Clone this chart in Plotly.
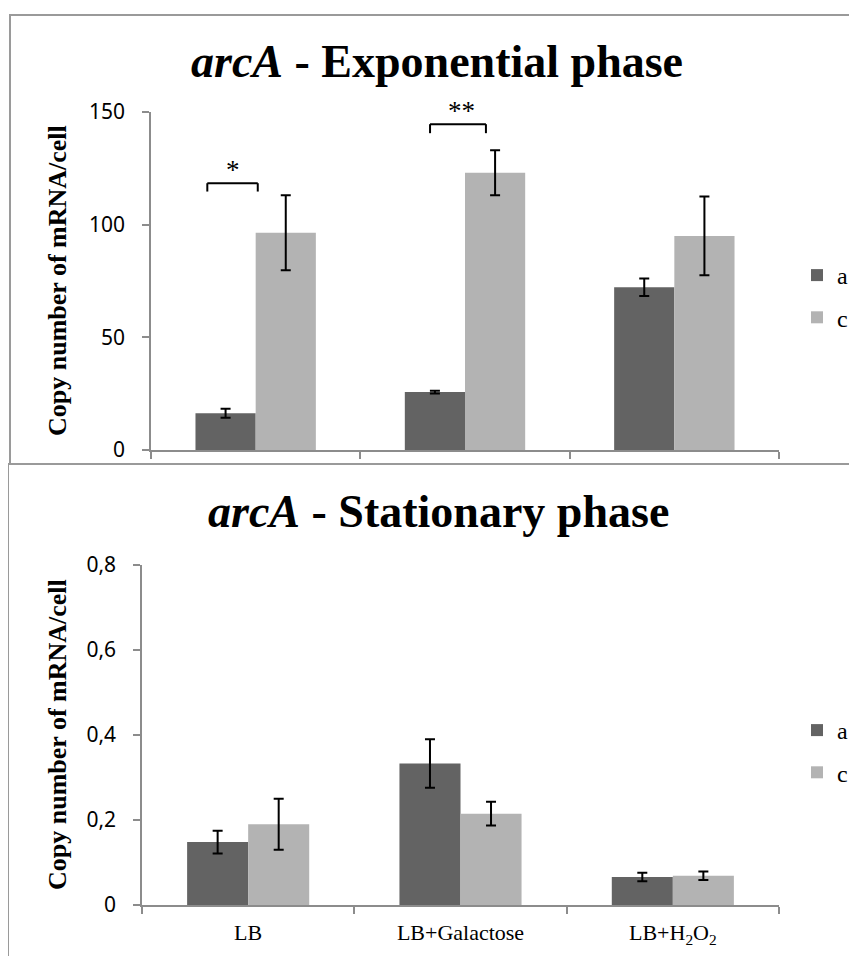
import plotly.graph_objects as go

W, H = 849, 948
OFF = 8  # page body margin

categories = ["LB", "LB+Galactose", "LB+H<sub>2</sub>O<sub>2</sub>"]
series_names = ["a", "c"]
colors = ["#636363", "#b3b3b3"]

# Exponential phase
exp_a = [16.3, 25.7, 72.2]
exp_a_err = [2.0, 0.6, 3.9]
exp_c = [96.4, 123.0, 95.0]
exp_c_err = [16.6, 10.0, 17.5]

# Stationary phase
sta_a = [0.148, 0.333, 0.066]
sta_a_err = [0.027, 0.057, 0.010]
sta_c = [0.190, 0.215, 0.069]
sta_c_err = [0.060, 0.028, 0.010]

# significance markers (top chart)
sig_x0 = [-0.231, 0.833]
sig_x1 = [0.010, 1.100]
sig_top = [118.4, 144.6]
sig_leg = [114.7, 140.6]
sig_label = ["*", "**"]
sig_label_x = [-0.11, 0.981]

def fx(px):
    return (px - OFF) / W

def fy(py):
    return 1 - (py - OFF) / H

fig = go.Figure()

series_top = [(exp_a, exp_a_err), (exp_c, exp_c_err)]
series_bot = [(sta_a, sta_a_err), (sta_c, sta_c_err)]

for i, (vals, errs) in enumerate(series_top):
    fig.add_trace(go.Bar(
        x=categories, y=vals, name=series_names[i],
        marker=dict(color=colors[i], line=dict(width=0)),
        error_y=dict(type="data", array=errs, visible=True, color="black", thickness=2, width=5),
        xaxis="x", yaxis="y", legend="legend", legendgroup="t" + str(i),
    ))
for i, (vals, errs) in enumerate(series_bot):
    fig.add_trace(go.Bar(
        x=categories, y=vals, name=series_names[i],
        marker=dict(color=colors[i], line=dict(width=0)),
        error_y=dict(type="data", array=errs, visible=True, color="black", thickness=2, width=5),
        xaxis="x2", yaxis="y2", legend="legend2", legendgroup="b" + str(i),
    ))

axis_col = "#8c8c8c"
tickfont = dict(family="Noto Sans", size=21, color="black")
legfont = dict(family="Liberation Serif", size=24, color="black")

fig.update_layout(
    width=W, height=H,
    margin=dict(l=0, r=0, t=0, b=0),
    paper_bgcolor="white", plot_bgcolor="white",
    barmode="group", bargap=0.425, bargroupgap=0,
    separators=", ",
    xaxis=dict(domain=[fx(151), fx(779)], anchor="y", type="category",
               showticklabels=False, ticks="outside", tickson="boundaries",
               ticklen=7, tickcolor=axis_col, tickwidth=1.5,
               showline=True, linecolor=axis_col, linewidth=1.5,
               showgrid=False, zeroline=False, automargin=False),
    yaxis=dict(domain=[fy(450), fy(112)], anchor="x", range=[0, 150], dtick=50,
               ticks="outside", ticklen=7, tickcolor=axis_col, tickwidth=1.5,
               ticklabelstandoff=13, tickfont=tickfont,
               showline=True, linecolor=axis_col, linewidth=1.5,
               showgrid=False, zeroline=False, automargin=False),
    xaxis2=dict(domain=[fx(142), fx(779)], anchor="y2", type="category",
                ticks="outside", tickson="boundaries",
                ticklen=7, tickcolor=axis_col, tickwidth=1.5,
                ticklabelstandoff=7,
                tickfont=dict(family="Liberation Serif", size=22, color="black"),
                showline=True, linecolor=axis_col, linewidth=1.5,
                showgrid=False, zeroline=False, automargin=False),
    yaxis2=dict(domain=[fy(905), fy(565)], anchor="x2", range=[0, 0.8], dtick=0.2,
                ticks="outside", ticklen=7, tickcolor=axis_col, tickwidth=1.5,
                ticklabelstandoff=13, tickfont=tickfont,
                showline=True, linecolor=axis_col, linewidth=1.5,
                showgrid=False, zeroline=False, automargin=False),
    legend=dict(x=fx(797), y=fy(253), xanchor="left", yanchor="top", font=legfont,
                traceorder="grouped", tracegroupgap=8, bgcolor="rgba(0,0,0,0)"),
    legend2=dict(x=fx(797), y=fy(708), xanchor="left", yanchor="top", font=legfont,
                 traceorder="grouped", tracegroupgap=8, bgcolor="rgba(0,0,0,0)"),
)

frame_col = "#9a9a9a"
fig.add_shape(type="rect", xref="paper", yref="paper", x0=fx(10), x1=fx(870), y0=fy(464), y1=fy(15),
              line=dict(color=frame_col, width=2))
fig.add_shape(type="rect", xref="paper", yref="paper", x0=fx(8), x1=fx(870), y0=fy(970), y1=fy(464),
              line=dict(color=frame_col, width=2))

# significance brackets
for x0, x1, yt, yl, lab, lx in zip(sig_x0, sig_x1, sig_top, sig_leg, sig_label, sig_label_x):
    fig.add_shape(type="line", xref="x", yref="y", x0=x0, x1=x1, y0=yt, y1=yt, line=dict(color="black", width=2))
    fig.add_shape(type="line", xref="x", yref="y", x0=x0, x1=x0, y0=yt, y1=yl, line=dict(color="black", width=2))
    fig.add_shape(type="line", xref="x", yref="y", x0=x1, x1=x1, y0=yt, y1=yl, line=dict(color="black", width=2))
    fig.add_annotation(xref="x", yref="y", x=lx, y=yt, yshift=13, text=lab, showarrow=False,
                       font=dict(family="Liberation Serif", size=27, color="black"),
                       xanchor="center", yanchor="middle")

title_font = dict(family="Liberation Serif", size=46, color="black")
fig.add_annotation(xref="paper", yref="paper", x=fx(437), y=fy(62), text="<b><i>arcA</i> - Exponential phase</b>",
                   showarrow=False, font=title_font, xanchor="center", yanchor="middle")
fig.add_annotation(xref="paper", yref="paper", x=fx(438), y=fy(512), text="<b><i>arcA</i> - Stationary phase</b>",
                   showarrow=False, font=title_font, xanchor="center", yanchor="middle")

ytitle_font = dict(family="Liberation Serif", size=26, color="black")
fig.add_annotation(xref="paper", yref="paper", x=fx(57), y=fy(281), text="<b>Copy number of mRNA/cell</b>",
                   textangle=-90, showarrow=False, font=ytitle_font, xanchor="center", yanchor="middle")
fig.add_annotation(xref="paper", yref="paper", x=fx(57), y=fy(735), text="<b>Copy number of mRNA/cell</b>",
                   textangle=-90, showarrow=False, font=ytitle_font, xanchor="center", yanchor="middle")

fig.write_html("out.html")
